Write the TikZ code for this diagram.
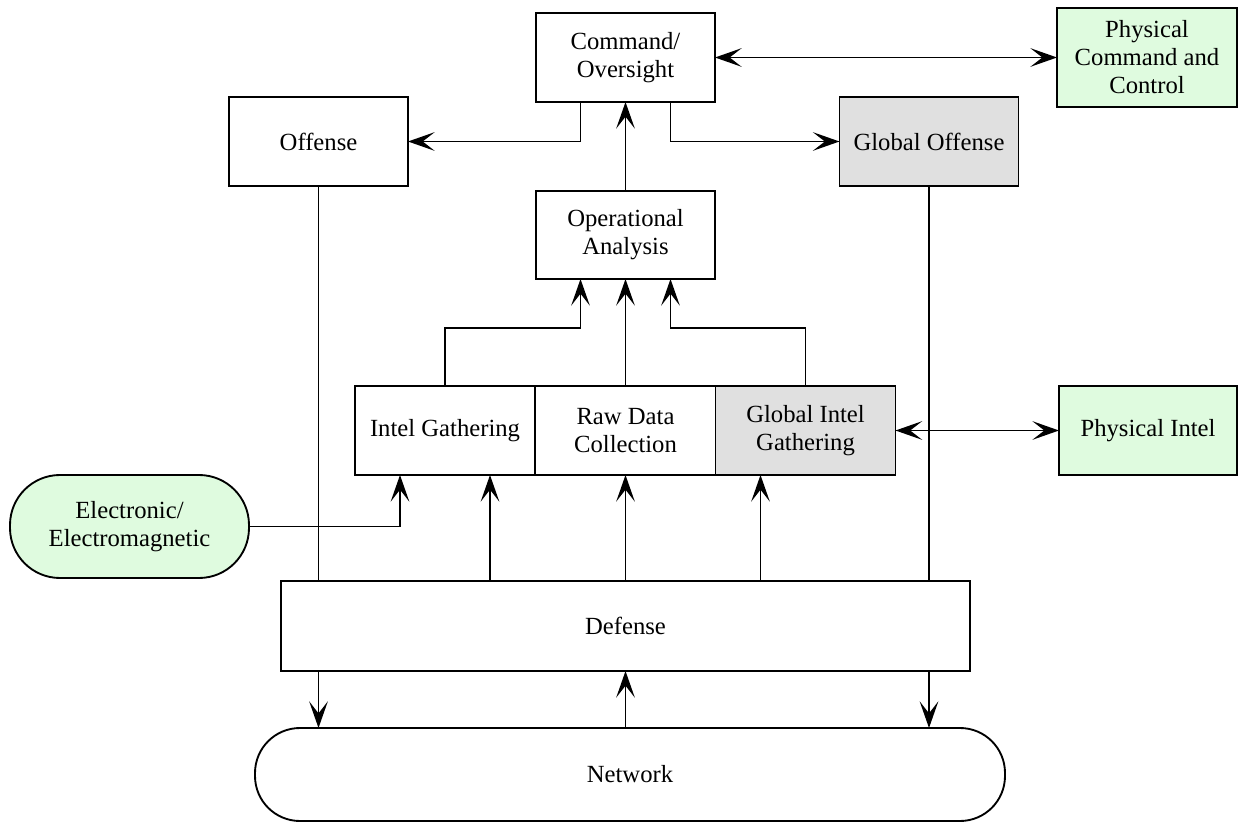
\documentclass[tikz,border=0pt]{standalone}
\usepackage{fontspec}
\setmainfont{LiberationSerif}[Extension=.ttf,UprightFont=*-Regular,BoldFont=*-Bold]
\usetikzlibrary{arrows.meta,calc,shapes.misc}
\definecolor{lgreen}{HTML}{DFFBDF}
\definecolor{lgrey}{HTML}{E0E0E0}
\begin{document}
\begin{tikzpicture}[x=0.75pt,y=-0.75pt,
  sz/.style 2 args={minimum width=#1*0.75pt, minimum height=#2*0.75pt},
  box/.style={draw, line width=1.4pt, inner sep=0pt, outer sep=0pt, align=center,
    font=\rmfamily\fontsize{18.5}{21}\selectfont},
  pill/.style={box, rounded corners=#1*0.75pt},
  conn/.style={line width=1.2pt},
  >={Stealth[length=20pt,width=14pt,inset=9pt]}]
\useasboundingbox (0,0) rectangle (1238,823);
% nodes
\node[box, sz={179}{89}] (cmd) at (625.5,57.5) {Command/\\Oversight};
\node[box, sz={180}{99}, fill=lgreen] (pcc) at (1147,57.5) {Physical\\Command and\\Control};
\node[box, sz={179}{89}] (off) at (318.5,141.5) {Offense};
\node[box, sz={179}{89}, fill=lgrey] (goff) at (929,141.5) {Global Offense};
\node[box, sz={179}{88}] (oa) at (625.5,235) {Operational\\Analysis};
\node[box, sz={180}{89}] (ig) at (445,430.5) {Intel Gathering};
\node[box, sz={180}{89}] (raw) at (625.5,430.5) {Raw Data\\Collection};
\node[box, sz={180}{89}, fill=lgrey] (gig) at (805.5,430.5) {Global Intel\\Gathering};
\node[box, sz={178}{89}, fill=lgreen] (pint) at (1148,430.5) {Physical Intel};
\node[pill=50, sz={239}{103}, fill=lgreen] (elec) at (129.5,526.5) {Electronic/\\Electromagnetic};
\node[box, sz={689}{90}] (def) at (625.5,626) {Defense};
\node[pill=45, sz={750}{93}] (net) at (630,774.5) {Network};
% helper coordinates
\coordinate (cmdL) at ($(cmd.south)+(-45,0)$);
\coordinate (cmdR) at ($(cmd.south)+(45,0)$);
\coordinate (oaL) at ($(oa.south)+(-45,0)$);
\coordinate (oaR) at ($(oa.south)+(45,0)$);
\coordinate (igL) at ($(ig.south)+(-45,0)$);
\coordinate (igR) at ($(ig.south)+(45,0)$);
\coordinate (gigL) at ($(gig.south)+(-45,0)$);
% connectors
\draw[conn,<->] (cmd.east) -- (pcc.west);
\draw[conn,->] (cmdL) |- (off.east);
\draw[conn,->] (cmdR) |- (goff.west);
\draw[conn,->] (oa.north) -- (cmd.south);
\draw[conn,->] (ig.north) |- ($(oaL)+(0,49)$) -- (oaL);
\draw[conn,->] (raw.north) -- (oa.south);
\draw[conn,->] (gig.north) |- ($(oaR)+(0,49)$) -- (oaR);
\draw[conn,<->] (gig.east) -- (pint.west);
\draw[conn] (off.south) -- (off.south |- def.north);
\draw[conn] (goff.south) -- (goff.south |- def.north);
\draw[conn,->] (elec.east) -| (igL);
\draw[conn,->] (igR |- def.north) -- (igR);
\draw[conn,->] (raw.south |- def.north) -- (raw.south);
\draw[conn,->] (gigL |- def.north) -- (gigL);
\draw[conn,->] (off.south |- def.south) -- (off.south |- net.north);
\draw[conn,->] (goff.south |- def.south) -- (goff.south |- net.north);
\draw[conn,->] (raw.south |- net.north) -- (raw.south |- def.south);
\end{tikzpicture}
\end{document}
